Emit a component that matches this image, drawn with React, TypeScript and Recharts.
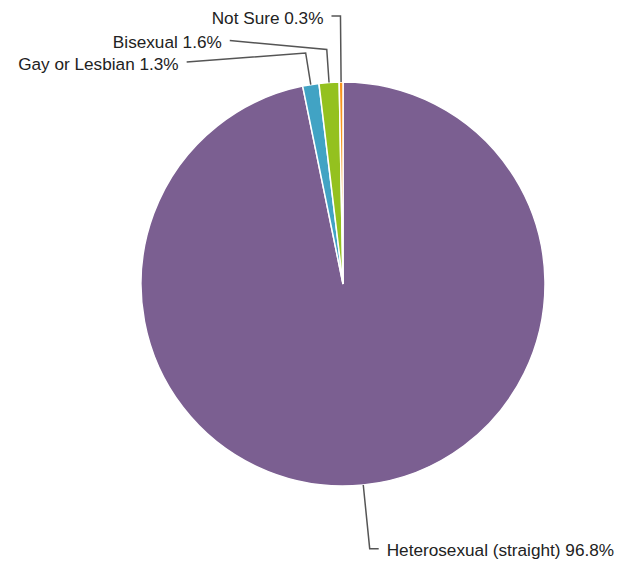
import React from "react";
import { PieChart, Pie, Cell } from "recharts";

const categories = ["Heterosexual (straight)", "Gay or Lesbian", "Bisexual", "Not Sure"];
const percents = [96.8, 1.3, 1.6, 0.3];
const colors = ["#7b5f91", "#41a3c4", "#94c11f", "#f7941d"];

// label layout: radial extension, then offset of the label anchor from the elbow
const labelExt = [64, 32, 33, 66];
const labelDx = [9, -119, -97, -9];
const labelDy = [0, 9, -9, 0];

const data = categories.map((name, i) => ({ name, value: percents[i] }));

const RAD = Math.PI / 180;

const renderLabel = (props: any) => {
  const { cx, cy, midAngle, outerRadius, index } = props;
  const cos = Math.cos(-midAngle * RAD);
  const sin = Math.sin(-midAngle * RAD);
  const x1 = cx + outerRadius * cos;
  const y1 = cy + outerRadius * sin;
  const r2 = outerRadius + labelExt[index];
  const x2 = cx + r2 * cos;
  const y2 = cy + r2 * sin;
  const x3 = x2 + labelDx[index];
  const y3 = y2 + labelDy[index];
  const right = labelDx[index] > 0;
  const tx = x3 + (right ? 8 : -8);
  return (
    <g key={`lbl-${index}`}>
      <polyline
        points={`${x1},${y1} ${x2},${y2} ${x3},${y3}`}
        fill="none"
        stroke="#555"
        strokeWidth={1.5}
      />
      <text
        x={tx}
        y={y3}
        dy="0.45em"
        textAnchor={right ? "start" : "end"}
        fill="#222"
        fontSize={17.2}
        fontFamily="'Liberation Sans', Arial, sans-serif"
      >
        {`${categories[index]} ${percents[index].toFixed(1)}%`}
      </text>
    </g>
  );
};

export default function App() {
  return (
    <div style={{ position: "fixed", left: 0, top: 0, width: 623, height: 564, background: "#fff" }}>
      <PieChart width={623} height={564} margin={{ top: 0, right: 0, bottom: 0, left: 0 }}>
        <Pie
          data={data}
          dataKey="value"
          nameKey="name"
          cx={343}
          cy={284}
          outerRadius={202}
          startAngle={90}
          endAngle={-270}
          stroke="#fff"
          strokeWidth={1.5}
          label={renderLabel}
          labelLine={false}
          isAnimationActive={false}
        >
          {data.map((d, i) => (
            <Cell key={d.name} fill={colors[i]} />
          ))}
        </Pie>
      </PieChart>
    </div>
  );
}
